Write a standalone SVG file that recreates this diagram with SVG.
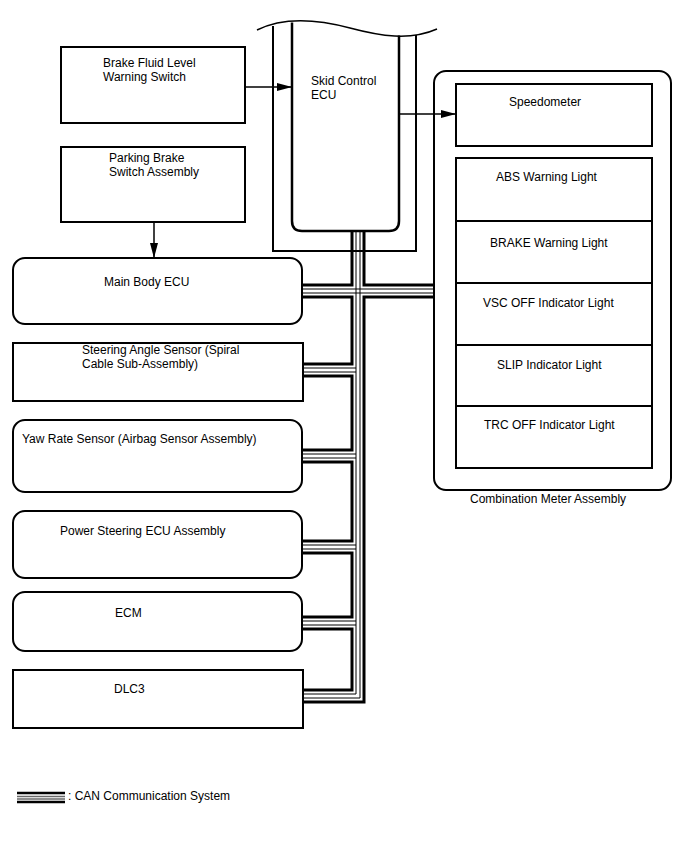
<svg xmlns="http://www.w3.org/2000/svg" width="688" height="852" viewBox="0 0 688 852">
<style>
text{font-family:"Liberation Sans",Arial,sans-serif;font-size:12px;fill:#000}
.box{fill:#fff;stroke:#000;stroke-width:2}
.ln{fill:none;stroke:#000;stroke-width:1.5}
.thick{fill:none;stroke:#000;stroke-width:3;stroke-linejoin:miter}
.thin{fill:none;stroke:#000;stroke-width:1}
</style>
<defs>
<marker id="ah" viewBox="0 0 15 8" refX="15" refY="4" markerWidth="15" markerHeight="8" markerUnits="userSpaceOnUse" orient="auto">
<path d="M0,0 L15,4 L0,8 Z" fill="#000"/>
</marker>
</defs>
<rect width="688" height="852" fill="#fff"/>

<g id="skid-control-ecu">
<path class="ln" d="M257,30 C285,16 320,20 350,28 C380,36 410,41 437,29"/>
<path fill="none" stroke="#000" stroke-width="2" d="M273,26 V251 H416 V35"/>
<path fill="none" stroke="#000" stroke-width="2.5" d="M292,22.5 V221 Q292,231 302,231 H389 Q399,231 399,221 V35.5"/>
<text x="311" y="85">Skid Control</text>
<text x="311" y="99">ECU</text>
</g>

<g id="brake-fluid-level-warning-switch">
<rect class="box" x="61" y="47" width="184" height="76"/>
<text x="103" y="67">Brake Fluid Level</text>
<text x="103" y="81">Warning Switch</text>
</g>

<g id="parking-brake-switch-assembly">
<rect class="box" x="61" y="147" width="184" height="75"/>
<text x="109" y="162">Parking Brake</text>
<text x="109" y="176">Switch Assembly</text>
</g>

<g id="main-body-ecu">
<rect class="box" x="13" y="258" width="289" height="66" rx="12"/>
<text x="104" y="286">Main Body ECU</text>
</g>

<g id="steering-angle-sensor">
<rect class="box" x="13" y="343" width="290" height="58"/>
<text x="82" y="354">Steering Angle Sensor (Spiral</text>
<text x="82" y="368">Cable Sub-Assembly)</text>
</g>

<g id="yaw-rate-sensor">
<rect class="box" x="13" y="420" width="289" height="72" rx="12"/>
<text x="22" y="443">Yaw Rate Sensor (Airbag Sensor Assembly)</text>
</g>

<g id="power-steering-ecu">
<rect class="box" x="13" y="511" width="289" height="67" rx="12"/>
<text x="60" y="535">Power Steering ECU Assembly</text>
</g>

<g id="ecm">
<rect class="box" x="13" y="592" width="289" height="59" rx="12"/>
<text x="115" y="617">ECM</text>
</g>

<g id="dlc3">
<rect class="box" x="13" y="670" width="290" height="58"/>
<text x="114" y="693">DLC3</text>
</g>

<g id="combination-meter-assembly">
<rect class="box" x="434" y="71" width="237" height="419" rx="12"/>
<text x="470" y="503">Combination Meter Assembly</text>
</g>

<g id="speedometer">
<rect class="box" x="456" y="84" width="196" height="62"/>
<text x="509" y="106">Speedometer</text>
</g>

<g id="abs-warning-light">
<rect class="box" x="456" y="158" width="196" height="63"/>
<text x="496" y="181">ABS Warning Light</text>
</g>
<g id="brake-warning-light">
<rect class="box" x="456" y="221" width="196" height="62"/>
<text x="490" y="247">BRAKE Warning Light</text>
</g>
<g id="vsc-off-indicator-light">
<rect class="box" x="456" y="283" width="196" height="62"/>
<text x="483" y="307">VSC OFF Indicator Light</text>
</g>
<g id="slip-indicator-light">
<rect class="box" x="456" y="345" width="196" height="61"/>
<text x="497" y="369">SLIP Indicator Light</text>
</g>
<g id="trc-off-indicator-light">
<rect class="box" x="456" y="406" width="196" height="62"/>
<text x="484" y="429">TRC OFF Indicator Light</text>
</g>

<g id="connectors">
<line class="ln" x1="245" y1="87" x2="292" y2="87" marker-end="url(#ah)"/>
<line class="ln" x1="154" y1="222" x2="154" y2="258" marker-end="url(#ah)"/>
<line class="ln" x1="399" y1="114" x2="456" y2="114" marker-end="url(#ah)"/>

<path class="thick" d="M352,232 V285 H302"/>
<path class="thick" d="M302,297 H352 V364 H303"/>
<path class="thick" d="M303,376 H352 V450 H302"/>
<path class="thick" d="M302,462 H352 V541 H302"/>
<path class="thick" d="M302,553 H352 V617 H302"/>
<path class="thick" d="M302,629 H352 V690 H303"/>
<path class="thick" d="M364,232 V285 H434"/>
<path class="thick" d="M434,297 H364 V702 H303"/>
<path class="thin" d="M356,232 V694 H303"/>
<path class="thin" d="M360,232 V698 H303"/>
<path class="thin" d="M302,289 H434 M302,293 H434"/>
<path class="thin" d="M303,368 H356 M303,372 H356"/>
<path class="thin" d="M302,454 H356 M302,458 H356"/>
<path class="thin" d="M302,545 H356 M302,549 H356"/>
<path class="thin" d="M302,621 H356 M302,625 H356"/>
</g>

<g id="legend">
<line x1="17" y1="793" x2="65" y2="793" stroke="#000" stroke-width="2.5"/>
<line x1="17" y1="796.5" x2="65" y2="796.5" stroke="#666" stroke-width="1.3"/>
<line x1="17" y1="799" x2="65" y2="799" stroke="#666" stroke-width="1.3"/>
<line x1="17" y1="802" x2="65" y2="802" stroke="#000" stroke-width="2.5"/>
<text x="68" y="800">: CAN Communication System</text>
</g>
</svg>
